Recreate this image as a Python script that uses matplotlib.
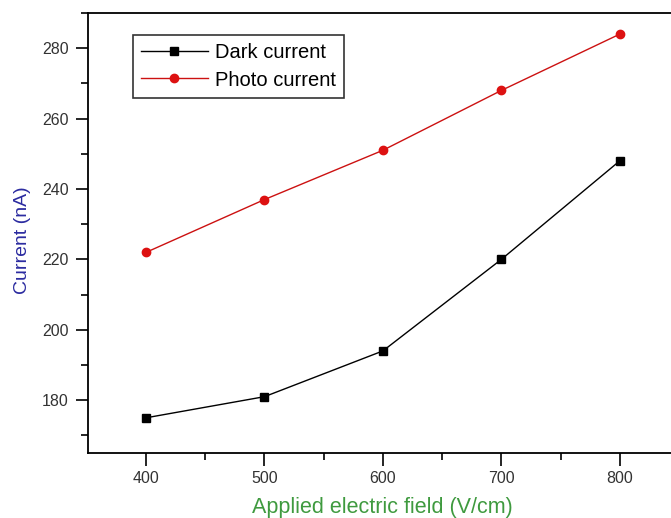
import matplotlib
matplotlib.use("Agg")
import matplotlib.pyplot as plt
from matplotlib.ticker import MultipleLocator

field = [400, 500, 600, 700, 800]
dark_current = [175, 181, 194, 220, 248]
photo_current = [222, 237, 251, 268, 284]
x_ticks = [400, 500, 600, 700, 800]
y_ticks = [180, 200, 220, 240, 260, 280]

plt.rcParams['font.family'] = ['Liberation Sans', 'DejaVu Sans']

fig = plt.figure(figsize=(6.71, 5.18), dpi=100)
ax = fig.add_axes([88/671, 65/518, (679-88)/671, (453-13)/518])

ax.plot(field, dark_current, color='black', lw=1, marker='s', ms=6,
        label='Dark current')
ax.plot(field, photo_current, color='#cc1111', lw=1, marker='o', ms=6,
        mfc='#dd1111', mec='#dd1111', label='Photo current')

ax.set_xlim(351, 850)
ax.set_ylim(165, 290)
ax.set_xticks(x_ticks)
ax.set_yticks(y_ticks)
ax.xaxis.set_minor_locator(MultipleLocator(50))
ax.yaxis.set_minor_locator(MultipleLocator(10))
ax.tick_params(which='major', direction='out', length=9, width=1.2,
               labelsize=11.5, labelcolor='#333333')
ax.tick_params(axis='x', which='major', pad=4)
ax.tick_params(axis='y', which='major', pad=5)
ax.tick_params(which='minor', direction='out', length=5, width=1.2)
ax.spines['right'].set_visible(False)
for s in ['left', 'bottom', 'top']:
    ax.spines[s].set_linewidth(1.3)

ax.set_xlabel('Applied electric field (V/cm)', fontsize=15.5, color='#3f9a3f')
ax.set_ylabel('Current (nA)', fontsize=14, color='#2b2ba0')
ax.xaxis.set_label_coords(0.5 - (88 + 591/2 - 382)/591, -0.1)
ax.yaxis.set_label_coords((31 - 88)/591, 0.5 - (240 - 233)/440)

leg = ax.legend(loc='upper left', bbox_to_anchor=(45/591, 1-22/440),
                fontsize=14.5, frameon=True, fancybox=False, edgecolor='black',
                borderpad=0.4, handlelength=3.3, labelspacing=0.42,
                handletextpad=0.35, borderaxespad=0)
leg.get_frame().set_linewidth(1.2)

fig.savefig('out.png', dpi=100)
